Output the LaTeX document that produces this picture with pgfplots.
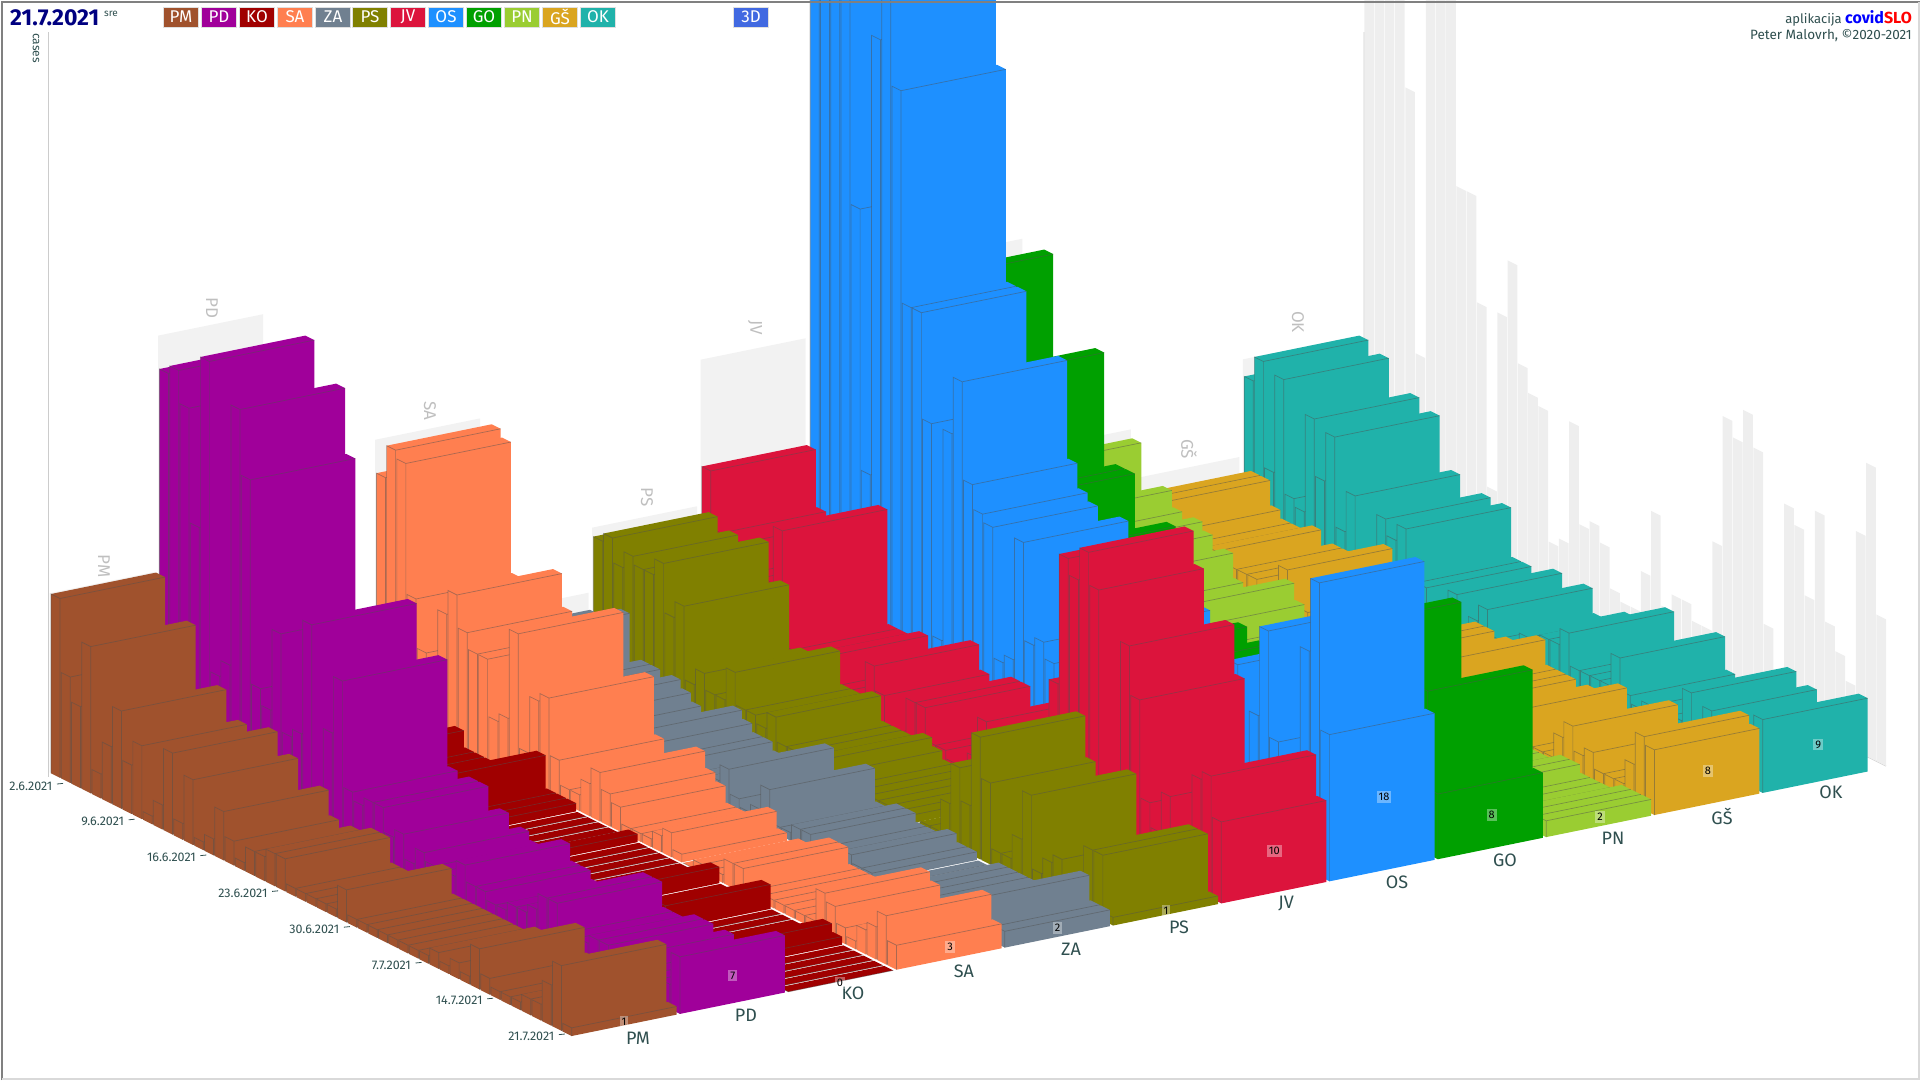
\documentclass[border=0pt]{standalone}
\usepackage{fontspec}
\setmainfont{Fira Sans}
\usepackage{pgfplots}
\usepackage{pgfplotstable}
\pgfplotsset{compat=1.18}
\definecolor{cPM}{HTML}{A0522D}
\definecolor{cPD}{HTML}{A0009A}
\definecolor{cKO}{HTML}{A00000}
\definecolor{cSA}{HTML}{FF7F50}
\definecolor{cZA}{HTML}{708090}
\definecolor{cPS}{HTML}{808000}
\definecolor{cJV}{HTML}{DC143C}
\definecolor{cOS}{HTML}{1E90FF}
\definecolor{cGO}{HTML}{00A000}
\definecolor{cPN}{HTML}{9ACD32}
\definecolor{cGS}{HTML}{DAA520}
\definecolor{cOK}{HTML}{20B2AA}
\definecolor{ink}{HTML}{2F4F4F}
\definecolor{wallA}{HTML}{F2F2F2}
\definecolor{wallB}{HTML}{EEEEEE}
\definecolor{edgeC}{HTML}{505050}
% daily cases per region, 1.6.2021 (row 0) ... 21.7.2021 (row 50); MAX = daily maximum shown on the side wall
\pgfplotstableread{
d PM PD KO SA ZA PS JV OS GO PN GS OK MAX
0 22 47 1 29 7 16 22 85 14 15 8 20 85
1 13 48 2 33 6 17 15 88 28 8 9 23 88
2 10 44 1 32 5 14 13 86 42 7 9 10 86
3 18 30 1 16 9 16 15 84 18 11 6 22 84
4 3 51 2 10 3 15 12 54 15 9 5 8 54
5 7 13 1 8 4 15 12 22 12 8 5 7 22
6 12 15 1 16 4 17 12 76 16 9 5 19 76
7 6 47 2 19 3 11 19 90 33 8 6 12 90
8 9 39 3 15 4 13 5 71 14 5 4 18 71
9 1 14 1 13 3 4 5 45 20 7 5 7 45
10 3 12 1 13 2 6 5 45 20 4 5 12 45
11 10 22 1 6 1 4 6 32 8 3 5 4 32
12 2 10 1 7 2 4 3 6 10 3 4 3 10
13 8 11 2 18 2 8 3 32 12 3 5 11 32
14 1 25 1 4 4 4 3 39 16 4 8 9 39
15 2 5 2 11 3 4 3 27 6 7 3 11 27
16 6 13 5 12 2 3 8 24 5 5 4 5 24
17 3 20 1 5 2 5 5 23 6 3 3 5 23
18 1 7 1 2 1 2 1 7 6 3 3 1 7
19 3 6 1 2 1 2 1 8 4 3 4 2 8
20 3 7 0 4 2 2 6 23 5 3 3 6 23
21 4 7 0 6 2 1 6 11 8 2 2 2 11
22 4 4 0 4 3 3 2 12 5 3 3 4 12
23 1 5 0 3 5 2 2 10 7 2 4 6 10
24 1 2 0 1 2 1 1 4 4 3 4 3 5
25 1 4 1 1 1 1 1 4 4 2 3 3 4
26 1 3 0 1 2 1 3 4 3 3 4 3 4
27 1 3 0 2 5 1 8 9 3 2 4 5 9
28 4 3 0 3 1 1 2 17 4 2 5 5 17
29 1 5 0 1 1 1 2 6 5 3 6 6 6
30 1 3 0 0 2 1 2 8 3 2 3 6 8
31 1 3 0 1 2 0 2 6 3 2 3 8 8
32 1 2 0 1 1 1 2 6 4 3 3 4 6
33 1 2 2 1 1 1 2 6 4 2 2 4 6
34 1 3 0 3 1 5 17 10 5 2 3 4 17
35 1 3 0 3 2 10 33 12 4 2 3 4 33
36 1 4 0 1 1 6 31 12 4 1 3 8 31
37 2 6 0 1 1 15 35 8 6 1 5 4 35
38 1 6 3 1 0 10 31 10 5 1 1 3 31
39 2 3 0 1 0 2 6 10 6 1 1 4 10
40 1 3 0 1 1 2 5 5 5 1 1 3 5
41 5 3 0 1 1 5 26 21 6 1 4 4 26
42 2 4 0 1 1 11 20 8 24 2 6 4 24
43 1 4 0 5 1 2 8 16 7 2 3 8 16
44 1 3 2 4 1 4 5 27 5 1 4 3 27
45 1 4 1 2 1 5 10 14 6 1 2 7 14
46 2 3 0 1 1 2 5 11 4 1 2 5 11
47 2 3 0 3 2 2 5 8 5 1 2 3 8
48 5 3 0 4 5 8 14 27 6 2 5 4 27
49 8 3 0 6 2 8 15 36 20 2 9 5 36
50 1 7 0 3 2 1 10 18 8 2 8 9 18
}\tbl
% column maxima drawn on the back wall
\pgfplotstableread{
c name h
0 PM 22
1 PD 51
2 KO 5
3 SA 33
4 ZA 9
5 PS 17
6 JV 35
7 OS 90
8 GO 42
9 PN 16
10 GS 10
11 OK 22
}\tblmax
\newcommand\fs[1]{\fontsize{#1}{#1}\selectfont}
\pgfplotsset{pxaxis/.style={at={(0,0)},anchor=south west,scale only axis,width=1920pt,height=1080pt,
  xmin=0,xmax=1920,ymin=0,ymax=1080,y dir=reverse,hide axis,no marks,
  edgeln/.style={draw=edgeC,draw opacity=.48,line width=.7pt,fill=none},
  /tikz/font=\fs{12}}}
\newcommand\drawbar[3]{% column, day, height
  \pgfmathsetmacro\K{50-#2}
  \pgfmathsetmacro\FX{571.7+108.27*#1-10.24*\K+\K/50*(0.3+0.2*#1)}
  \pgfmathsetmacro\FY{1036-22.1*#1-5.08*\K+\K/50*(-4.2+0.84*#1)}
  \pgfmathsetmacro\H{8.15*#3}
  \pgfmathsetmacro\BX{\FX-9}
  \pgfmathsetmacro\BY{\FY-4.5}
  \pgfmathsetmacro\RX{\FX+105}
  \pgfmathsetmacro\RY{\FY-21.4}
  \pgfmathsetmacro\BRX{\RX-9}
  \pgfmathsetmacro\BRY{\RY-4.5}
  \pgfmathsetmacro\BT{\BY-\H}
  \pgfmathsetmacro\FT{\FY-\H}
  \pgfmathsetmacro\RT{\RY-\H}
  \pgfmathsetmacro\BRT{\BRY-\H}
  \edef\tmp{\noexpand\addplot[fill=c\cname,draw=none] coordinates {(\BX,\BY) (\BX,\BT) (\BRX,\BRT) (\RX,\RT) (\RX,\RY) (\FX,\FY)} -- cycle;
  \noexpand\addplot[edgeln] coordinates {(\BX,\BY) (\BX,\BT) (\FX,\FT) (\FX,\FY) (\FX,\FT) (\RX,\RT)};}%
  \tmp
}
\begin{document}
\begin{tikzpicture}[x=1pt,y=1pt]
\useasboundingbox (0,0) rectangle (1920,1080);
\begin{axis}[pxaxis]
% back wall per column
\pgfplotsinvokeforeach{0,...,11}{
  \pgfplotstablegetelem{#1}{h}\of\tblmax
  \pgfmathsetmacro\LX{49.7+108.47*#1}
  \pgfmathsetmacro\LY{772.5-21.26*#1}
  \pgfmathsetmacro\RX{\LX+105}
  \pgfmathsetmacro\RY{\LY-21.4}
  \pgfmathsetmacro\LT{\LY-8.15*\pgfplotsretval}
  \pgfmathsetmacro\RT{\RY-8.15*\pgfplotsretval}
  \edef\tmp{\noexpand\addplot[fill=wallA,draw=none] coordinates {(\LX,\LY) (\LX,\LT) (\RX,\RT) (\RX,\RY)} -- cycle;}
  \tmp
}
\addplot[draw=black!20,line width=1pt] coordinates {(48.9,32) (48.9,777)};
\addplot[draw=black!20,line width=1pt] coordinates {(1364,32) (1364,507) (1886,766)};
\foreach \n/\x/\y in {PM/104/566,PD/212/308,KO/321/661,SA/430/411,ZA/538/585,PS/647/497,JV/755/328,GO/971/227,PN/1079/417,GŠ/1189/449,OK/1298/322}{
  \edef\tmp{\noexpand\node[rotate=-90,text=black!25,font=\noexpand\fs{17}] at (axis cs:\x,\y) {\n};}
  \tmp
}
% side wall: daily maximum
\foreach \dd in {0,...,50}{
  \pgfplotstablegetelem{\dd}{MAX}\of\tbl
  \pgfmathsetmacro\K{50-\dd}
  \pgfmathsetmacro\FX{1886-10.24*\K}
  \pgfmathsetmacro\FY{766-5.08*\K}
  \pgfmathsetmacro\BX{\FX-9.7}
  \pgfmathsetmacro\BY{\FY-4.85}
  \pgfmathsetmacro\FT{\FY-8.15*\pgfplotsretval}
  \pgfmathsetmacro\BT{\BY-8.15*\pgfplotsretval}
  \edef\tmp{\noexpand\addplot[fill=wallB,draw=none] coordinates {(\BX,\BY) (\BX,\BT) (\FX,\FT) (\FX,\FY)} -- cycle;}
  \tmp
}
\end{axis}
% bars, right column first, back row first; one axis for each column
\foreach \cname/\cc in {OK/11,GS/10,PN/9,GO/8,OS/7,JV/6,PS/5,ZA/4,SA/3,KO/2,PD/1,PM/0}{
\begin{axis}[pxaxis]
  \foreach \dd in {0,...,50}{
    \edef\tmpget{\noexpand\pgfplotstablegetelem{\dd}{\cname}\noexpand\of\noexpand\tbl}
    \tmpget
    \let\hh\pgfplotsretval
    \drawbar{\cc}{\dd}{\hh}
  }
\end{axis}
}
\begin{axis}[pxaxis]
% date ticks
\addplot[draw=ink,line width=.8pt] coordinates {(57,784) (63,783.4)};
\addplot[draw=ink,line width=.8pt] coordinates {(128.7,819.8) (134.7,819.2)};
\addplot[draw=ink,line width=.8pt] coordinates {(200.4,855.6) (206.4,855)};
\addplot[draw=ink,line width=.8pt] coordinates {(272.1,891.4) (278.1,890.8)};
\addplot[draw=ink,line width=.8pt] coordinates {(343.8,927.2) (349.8,926.6)};
\addplot[draw=ink,line width=.8pt] coordinates {(415.5,963) (421.5,962.4)};
\addplot[draw=ink,line width=.8pt] coordinates {(487.2,998.8) (493.2,998.2)};
\addplot[draw=ink,line width=.8pt] coordinates {(558.9,1034.6) (564.9,1034)};
\foreach \t/\x/\y in {2.6.2021/52.6/786,9.6.2021/124.3/821.8,16.6.2021/196/857.6,23.6.2021/267.7/893.4,30.6.2021/339.4/929.2,7.7.2021/411.1/965,14.7.2021/482.8/1000.8,21.7.2021/554.5/1036.6}{
  \edef\tmp{\noexpand\node[anchor=east,text=ink,font=\noexpand\fs{12.5},inner sep=0pt] at (axis cs:\x,\y) {\t};}
  \tmp
}
% column names
\foreach \n/\x/\y in {PM/638/1038,PD/746/1015,KO/853/993,SA/964/971,ZA/1071/949,PS/1179/927,JV/1286/904,OS/1397/882,GO/1505/860,PN/1613/838,GŠ/1722/816,OK/1831/792}{
  \edef\tmp{\noexpand\node[text=ink,font=\noexpand\fs{18},inner sep=0pt] at (axis cs:\x,\y) {\n};}
  \tmp
}
% values of the last day
\foreach \n/\x/\y in {1/624/1022,7/732.7/975.7,0/840/982.7,3/950/946.7,2/1057.7/928,1/1166/910.7,10/1274.3/850.7,18/1384/796.7,8/1491.7/815,2/1600/816.8,8/1708/770.7,9/1818.3/744.6}{
  \edef\tmp{\noexpand\node[fill=white,fill opacity=.35,text opacity=1,text=black,font=\noexpand\fs{11},inner sep=2pt] at (axis cs:\x,\y) {\n};}
  \tmp
}
% header
\node[anchor=west,text=blue!50!black,font=\bfseries\fs{23},inner sep=0pt] at (axis cs:10,18) {21.7.2021};
\node[anchor=west,text=ink,font=\fs{10},inner sep=0pt] at (axis cs:104,14) {sre};
\foreach \n/\cn/\x in {PM/cPM/181,PD/cPD/219,KO/cKO/257,SA/cSA/295,ZA/cZA/333,PS/cPS/370,JV/cJV/408,OS/cOS/446,GO/cGO/484,PN/cPN/522,GŠ/cGS/560,OK/cOK/598}{
  \edef\tmp{\noexpand\node[fill=\cn,draw=black!12,text=white,minimum width=35pt,minimum height=20pt,inner sep=0pt,font=\noexpand\fs{17}] at (axis cs:\x,17) {\n};}
  \tmp
}
\definecolor{royal}{HTML}{4169E1}
\node[fill=royal,draw=black!12,text=white,minimum width=35pt,minimum height=20pt,inner sep=0pt,font=\fs{17}] at (axis cs:751,17) {3D};
\node[rotate=-90,text=ink,font=\fs{12},inner sep=0pt] at (axis cs:36,48) {cases};
\node[anchor=east,text=ink,font=\fs{13},inner sep=0pt] at (axis cs:1912,18) {aplikacija\ \textcolor{blue}{\bfseries\fs{16}covid}\textcolor{red}{\bfseries\fs{16}SLO}};
\node[anchor=east,text=ink,font=\fs{13.5},inner sep=0pt] at (axis cs:1912,36) {Peter Malovrh, ©2020-2021};
% frame
\addplot[draw=black!50,line width=2pt] coordinates {(2,1080) (2,1.5) (1920,1.5)};
\addplot[draw=black!15,line width=1.5pt] coordinates {(2,1079) (1919,1079) (1919,1.5)};
\end{axis}
\end{tikzpicture}
\end{document}
